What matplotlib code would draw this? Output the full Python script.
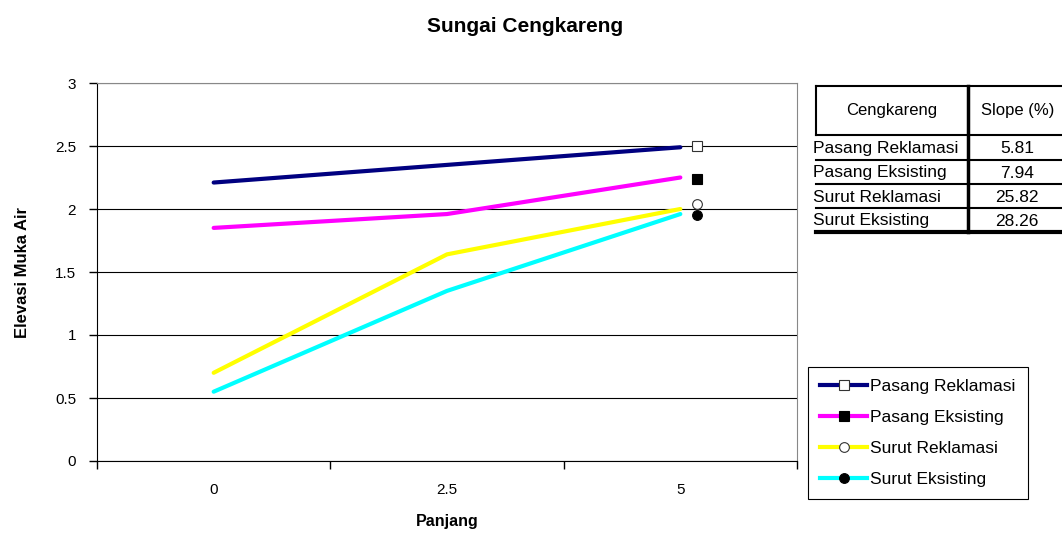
import matplotlib.pyplot as plt
from matplotlib.lines import Line2D

plt.rcParams['font.family'] = ['Liberation Sans', 'DejaVu Sans']

# data
categories = ['0', '2.5', '5']
pasang_reklamasi = [2.21, 2.35, 2.49]
pasang_eksisting = [1.85, 1.96, 2.25]
surut_reklamasi = [0.70, 1.64, 2.00]
surut_eksisting = [0.55, 1.35, 1.96]

# loose marker points drawn just right of the last category
marker_values = [2.50, 2.24, 2.04, 1.95]

series_names = ['Pasang Reklamasi', 'Pasang Eksisting', 'Surut Reklamasi', 'Surut Eksisting']
series_colors = ['#000080', '#ff00ff', '#ffff00', '#00ffff']
marker_styles = [('s', 'white'), ('s', 'black'), ('o', 'white'), ('o', 'black')]

slope_values = ['5.81', '7.94', '25.82', '28.26']

W, H = 1062, 536
fig = plt.figure(figsize=(W / 100, H / 100), dpi=100)
ax = fig.add_axes([97 / W, (H - 461) / H, 700 / W, 378 / H])

x = list(range(len(categories)))
all_series = [pasang_reklamasi, pasang_eksisting, surut_reklamasi, surut_eksisting]
for vals, col in zip(all_series, series_colors):
    ax.plot(x, vals, color=col, lw=3, solid_capstyle='round', zorder=3)

for val, (m, fc) in zip(marker_values, marker_styles):
    ax.plot(x[-1] + 0.073, val, marker=m, ms=7, mfc=fc, mec='#333333' if fc == 'white' else 'black',
            mew=0.8, ls='none', zorder=4)

ax.set_xlim(-0.5, len(categories) - 0.5)
ax.set_ylim(0, 3)
ax.set_yticks([0, 0.5, 1, 1.5, 2, 2.5, 3])
ax.set_yticklabels(['0', '0.5', '1', '1.5', '2', '2.5', '3'])
ax.yaxis.grid(True, color='black', lw=0.8)
ax.set_axisbelow(True)

ax.set_xticks([i - 0.5 for i in range(len(categories) + 1)])
ax.set_xticklabels([])
ax.set_xticks(x, minor=True)
ax.set_xticklabels(categories, minor=True)
ax.tick_params(axis='x', which='major', length=6, width=1, direction='out')
ax.tick_params(axis='x', which='minor', length=0, pad=16, labelsize=11)
ax.tick_params(axis='y', length=6, width=1, direction='out', pad=9, labelsize=11)

for s in ['top', 'right']:
    ax.spines[s].set_color('#888888')
ax.spines['left'].set_color('black')
ax.spines['bottom'].set_color('black')

ax.set_xlabel('Panjang', fontsize=11.5, fontweight='bold', labelpad=12)
ax.set_ylabel('Elevasi Muka Air', fontsize=12, fontweight='bold', labelpad=18)
fig.text(525 / W, 1 - 26 / H, 'Sungai Cengkareng', ha='center', va='center',
         fontsize=15, fontweight='bold')

# legend
handles = [Line2D([0], [0], color=c, lw=3, marker=m, ms=7, mfc=fc,
                  mec='#333333' if fc == 'white' else 'black', mew=0.8)
           for c, (m, fc) in zip(series_colors, marker_styles)]
leg = fig.legend(handles, series_names, loc='upper left', bbox_to_anchor=(808 / W, 1 - 367 / H),
                 borderaxespad=0, fancybox=False, edgecolor='black', framealpha=1, fontsize=12.5,
                 handlelength=2.7, handletextpad=0.2, labelspacing=0.9, borderpad=0.7)
leg.get_frame().set_linewidth(0.8)

# slope table drawn in pixel coordinates
tab = fig.add_axes([0, 0, 1, 1], zorder=5)
tab.set_xlim(0, W)
tab.set_ylim(H, 0)
tab.axis('off')
x0, x1, x2 = 816, 968, 1062
ys = [86, 135, 160, 184, 208, 232]
for y in ys[:-1]:
    tab.plot([x0, x2], [y, y], color='black', lw=1.5)
tab.plot([x0, x2], [ys[-1], ys[-1]], color='black', lw=3)
tab.plot([x0, x0], [ys[0], ys[1]], color='black', lw=1.5)
tab.plot([x1, x1], [ys[0], ys[-1]], color='black', lw=2.5)
tab.text((x0 + x1) / 2, (ys[0] + ys[1]) / 2, 'Cengkareng', ha='center', va='center', fontsize=12)
tab.text((x1 + x2) / 2 + 3, (ys[0] + ys[1]) / 2, 'Slope (%)', ha='center', va='center', fontsize=12)
for i, (name, sl) in enumerate(zip(series_names, slope_values)):
    yc = (ys[i + 1] + ys[i + 2]) / 2 + 1
    tab.text(x0 - 3, yc, name, ha='left', va='center', fontsize=12.5)
    tab.text((x1 + x2) / 2 + 2, yc, sl, ha='center', va='center', fontsize=12.5)

plt.savefig('out.png', dpi=100)
